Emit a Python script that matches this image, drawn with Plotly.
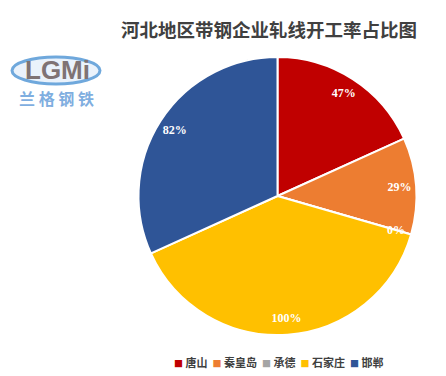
import math
import plotly.graph_objects as go

cities = ["唐山", "秦皇岛", "承德", "石家庄", "邯郸"]
rates = [47, 29, 0, 100, 82]
colors = ["#C00000", "#ED7D31", "#A5A5A5", "#FFC000", "#2F5597"]
title_text = "河北地区带钢企业轧线开工率占比图"

W, H = 446, 376
cx, cy, r = 277.5, 196, 139
dom = dict(x=[(cx - r) / W, (cx + r) / W], y=[1 - (cy + r) / H, 1 - (cy - r) / H])

labels_txt = [f"{v}%" for v in rates]
label_font = dict(family="Liberation Serif, Times New Roman, serif", size=12, color="white", weight="bold")

fig = go.Figure()
fig.add_trace(go.Pie(
    labels=cities, values=rates, textinfo="none",
    marker=dict(colors=colors, line=dict(color="white", width=2)),
    sort=False, direction="clockwise", rotation=0,
    text=labels_txt, hoverinfo="label+text", domain=dom, showlegend=False,
))
# transparent ring carrying the data labels near the outer edge
fig.add_trace(go.Pie(
    labels=cities, values=rates,
    text=[t if v > 0 else "" for t, v in zip(labels_txt, rates)], textinfo="text",
    textposition="inside", insidetextorientation="horizontal", hole=0.76,
    textfont=label_font,
    marker=dict(colors=["rgba(0,0,0,0)"] * len(rates), line=dict(width=0)),
    sort=False, direction="clockwise", rotation=0,
    hoverinfo="skip", domain=dom, showlegend=False,
))

annotations = []
# zero-valued slices: label at their (zero-width) angle, same radius as the ring labels
total = sum(rates)
cum = 0
for v, t in zip(rates, labels_txt):
    if v == 0:
        ang = math.radians(cum / total * 360)
        rr = 0.89 * r
        annotations.append(dict(
            text=t, x=(cx + rr * math.sin(ang)) / W, y=1 - (cy - rr * math.cos(ang)) / H,
            xref="paper", yref="paper", showarrow=False, xanchor="center", yanchor="middle",
            font=label_font))
    cum += v

legend_text = "  ".join(
    f'<span style="color:{c};font-size:9px">■</span> {n}' for n, c in zip(cities, colors)
)

annotations += [
    dict(text="LGMi", x=57 / W, y=1 - 70 / H, xref="paper", yref="paper", xanchor="center",
         yanchor="middle", showarrow=False,
         font=dict(family="Liberation Sans, Arial", size=26, color="#7F7374", weight=600)),
    dict(text="<b>兰 格 钢 铁</b>", x=56 / W, y=1 - 98 / H, xref="paper", yref="paper",
         xanchor="center", yanchor="middle", showarrow=False,
         font=dict(family="Noto Sans CJK SC, sans-serif", size=16, color="#7FAEE0")),
    dict(text="<b>" + legend_text + "</b>", x=279 / W, y=1 - 362 / H, xref="paper", yref="paper",
         xanchor="center", yanchor="middle", showarrow=False,
         font=dict(family="Noto Sans CJK SC, sans-serif", size=11, color="#404040")),
]

fig.update_layout(
    width=W, height=H,
    margin=dict(l=0, r=0, t=0, b=0),
    paper_bgcolor="white",
    showlegend=False,
    uniformtext=dict(minsize=12, mode="show"),
    title=dict(
        text="<b>" + title_text + "</b>",
        x=269 / W, xanchor="center", y=1 - 31 / H, yanchor="middle",
        font=dict(family="Noto Sans CJK SC, sans-serif", size=18.5, color="#404040"),
    ),
    shapes=[
        dict(type="circle", xref="paper", yref="paper",
             x0=12 / W, x1=100 / W, y0=1 - 84 / H, y1=1 - 57 / H,
             line=dict(color="#6FA8DC", width=3), fillcolor="#EAF2FB", layer="below"),
    ],
    annotations=annotations,
)

fig.write_html(
    "out.html",
    config={"displayModeBar": False},
    post_script="document.body.style.margin='0';document.body.style.overflow='hidden';",
)
